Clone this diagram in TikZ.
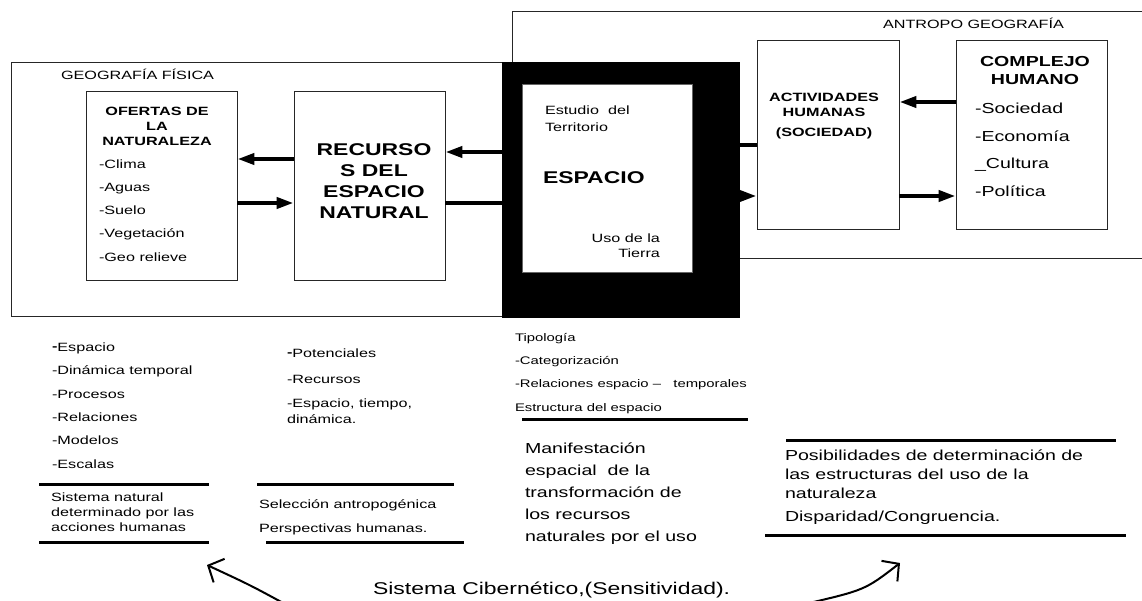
\documentclass[tikz,border=0pt]{standalone}
\usepackage{fontspec}
\setmainfont[FakeStretch=1.35]{Liberation Sans}
\usetikzlibrary{arrows.meta}
\newcommand\fsz[2]{\fontsize{#1}{#2}\selectfont}
\newcommand\bigdash{\raisebox{0.8pt}{\bfseries -}}
\begin{document}
\begin{tikzpicture}[x=1pt,y=-1pt,
  box/.style={draw=black!85, line width=0.9pt, inner sep=0pt},
  txt/.style={inner sep=0pt, outer sep=0pt, align=left},
  thickarr/.style={line width=4pt, -{Triangle[length=17pt,width=11pt]}},
  thickln/.style={line width=4pt},
  rulebar/.style={line width=3pt},
  looparr/.style={line width=2pt, -{Straight Barb[length=12pt,width=26pt,line width=2pt]}}]
\useasboundingbox (0,0) rectangle (1142,601);
\clip (0,0) rectangle (1142,601);
\fill[white] (0,0) rectangle (1142,601);

% frames
\node[box, minimum width=530pt, minimum height=254pt] (geo) at (276,189) {};
\node[box, minimum width=648pt, minimum height=247pt] (ant) at (836,134.5) {};
\node[txt, anchor=west, font=\fsz{12}{15}] (geot) at (61,74) {GEOGRAFÍA FÍSICA};
\node[txt, anchor=west, font=\fsz{12}{15}] (antt) at (883,23) {ANTROPO GEOGRAFÍA};

% black frame and espacio
\node[fill=black, inner sep=0pt, minimum width=238pt, minimum height=256pt] (blk) at (621,190) {};
\node[fill=white, draw=black!60, line width=0.6pt, inner sep=0pt, minimum width=170pt, minimum height=188pt] (esp) at (607,178) {};
\node[txt, anchor=north west, font=\fsz{12}{17}] (estu) at (545,105.7) {Estudio\ \ del\\Territorio};
\node[txt, anchor=west, font=\fsz{17}{21}\bfseries] (espt) at (543,178) {ESPACIO};
\node[txt, anchor=north east, align=right, font=\fsz{12}{15}] (uso) at (660,233.7) {Uso de la\\Tierra};

% boxes
\node[box, minimum width=151pt, minimum height=189pt] (ofe) at (161.5,185.5) {};
\node[box, minimum width=151pt, minimum height=189pt] (rec) at (369.5,185.5) {};
\node[box, minimum width=142pt, minimum height=189pt] (act) at (828,134.5) {};
\node[box, minimum width=151pt, minimum height=189pt] (com) at (1031.5,134.5) {};

\node[txt, anchor=north, align=center, font=\fsz{12}{15}\bfseries] (ofeh) at (157,106.7) {OFERTAS DE\\LA\\NATURALEZA};
\node[txt, anchor=north west, font=\fsz{12}{23.2}] (ofel) at (99,159.7) {-Clima\\-Aguas\\-Suelo\\-Vegetación\\-Geo relieve};
\node[txt, anchor=north, align=center, font=\fsz{17}{21}\bfseries] (rect) at (374,143.9) {RECURSO\\S DEL\\ESPACIO\\NATURAL};
\node[txt, anchor=north, align=center, font=\fsz{12}{15}\bfseries] (actt) at (824,92.7) {ACTIVIDADES\\HUMANAS};
\node[txt, anchor=center, font=\fsz{12}{15}\bfseries] (acts) at (824,133) {(SOCIEDAD)};
\node[txt, anchor=north, align=center, font=\fsz{14.5}{18}\bfseries] (comh) at (1035,56.8) {COMPLEJO\\HUMANO};
\node[txt, anchor=north west, font=\fsz{14.5}{27.7}] (coml) at (975,103) {-Sociedad\\-Economía\\\_Cultura\\-Política};

% thick connectors
\draw[thickarr] (rec.west |- 0,159) -- (ofe.east |- 0,159);
\draw[thickarr] (ofe.east |- 0,203) -- (rec.west |- 0,203);
\draw[thickarr] (blk.west |- 0,152) -- (rec.east |- 0,152);
\draw[thickln] (rec.east |- 0,203) -- (blk.west |- 0,203);
\draw[thickln] (blk.east |- 0,145) -- (act.west |- 0,145);
\draw[thickarr] (blk.east |- 0,196) -- (act.west |- 0,196);
\draw[thickarr] (com.west |- 0,102) -- (act.east |- 0,102);
\draw[thickarr] (act.east |- 0,196) -- (com.west |- 0,196);

% lower left column
\node[txt, anchor=north west, font=\fsz{12}{23.4}] (lst1) at (52,342.7) {\bigdash Espacio\\-Dinámica temporal\\-Procesos\\-Relaciones\\-Modelos\\-Escalas};
\draw[rulebar] (39,484) -- (209,484);
\node[txt, anchor=north west, font=\fsz{12}{15}] (sisn) at (51,492.7) {Sistema natural\\determinado por las\\acciones humanas};
\draw[rulebar] (39,542) -- (209,542);

% lower middle column
\node[txt, anchor=north west, font=\fsz{12}{26}] (lst2) at (287,348.7) {\bigdash Potenciales\\-Recursos};
\node[txt, anchor=north west, font=\fsz{12}{16}] (lst2b) at (287,398.7) {-Espacio, tiempo,\\dinámica.};
\draw[rulebar] (257,484) -- (454,484);
\node[txt, anchor=north west, font=\fsz{12}{24}] (selc) at (259,499.7) {Selección antropogénica\\Perspectivas humanas.};
\draw[rulebar] (266,542) -- (464,542);

% lower third column
\node[txt, anchor=north west, font=\fsz{11}{23.3}] (tipo) at (515,333) {Tipología\\-Categorización\\-Relaciones espacio --\ \ \ temporales\\Estructura del espacio};
\draw[rulebar] (522,419) -- (748,419);
\node[txt, anchor=north west, font=\fsz{14.5}{22}] (mani) at (525,442.8) {Manifestación\\espacial\ \ de la\\transformación de\\los recursos\\naturales por el uso};

% lower right column
\draw[rulebar] (786,440) -- (1116,440);
\node[txt, anchor=north west, font=\fsz{14.5}{19}] (posi) at (785,449.8) {Posibilidades de determinación de\\las estructuras del uso de la\\naturaleza};
\node[txt, anchor=west, font=\fsz{14.5}{19}] (disp) at (785,518) {Disparidad/Congruencia.};
\draw[rulebar] (765,535) -- (1126,535);

% cybernetic loop
\node[txt, anchor=west, font=\fsz{17}{20}] (ciber) at (373,590) {Sistema Cibernético,(Sensitividad).};
\coordinate (la0) at (285,604);
\coordinate (la1) at (207,565);
\coordinate (ra0) at (805,604);
\coordinate (ra1) at (900,563);
\draw[looparr] (la0) .. controls (250,585) .. (la1);
\draw[looparr] (ra0) .. controls (865,590) .. (ra1);
\end{tikzpicture}
\end{document}
